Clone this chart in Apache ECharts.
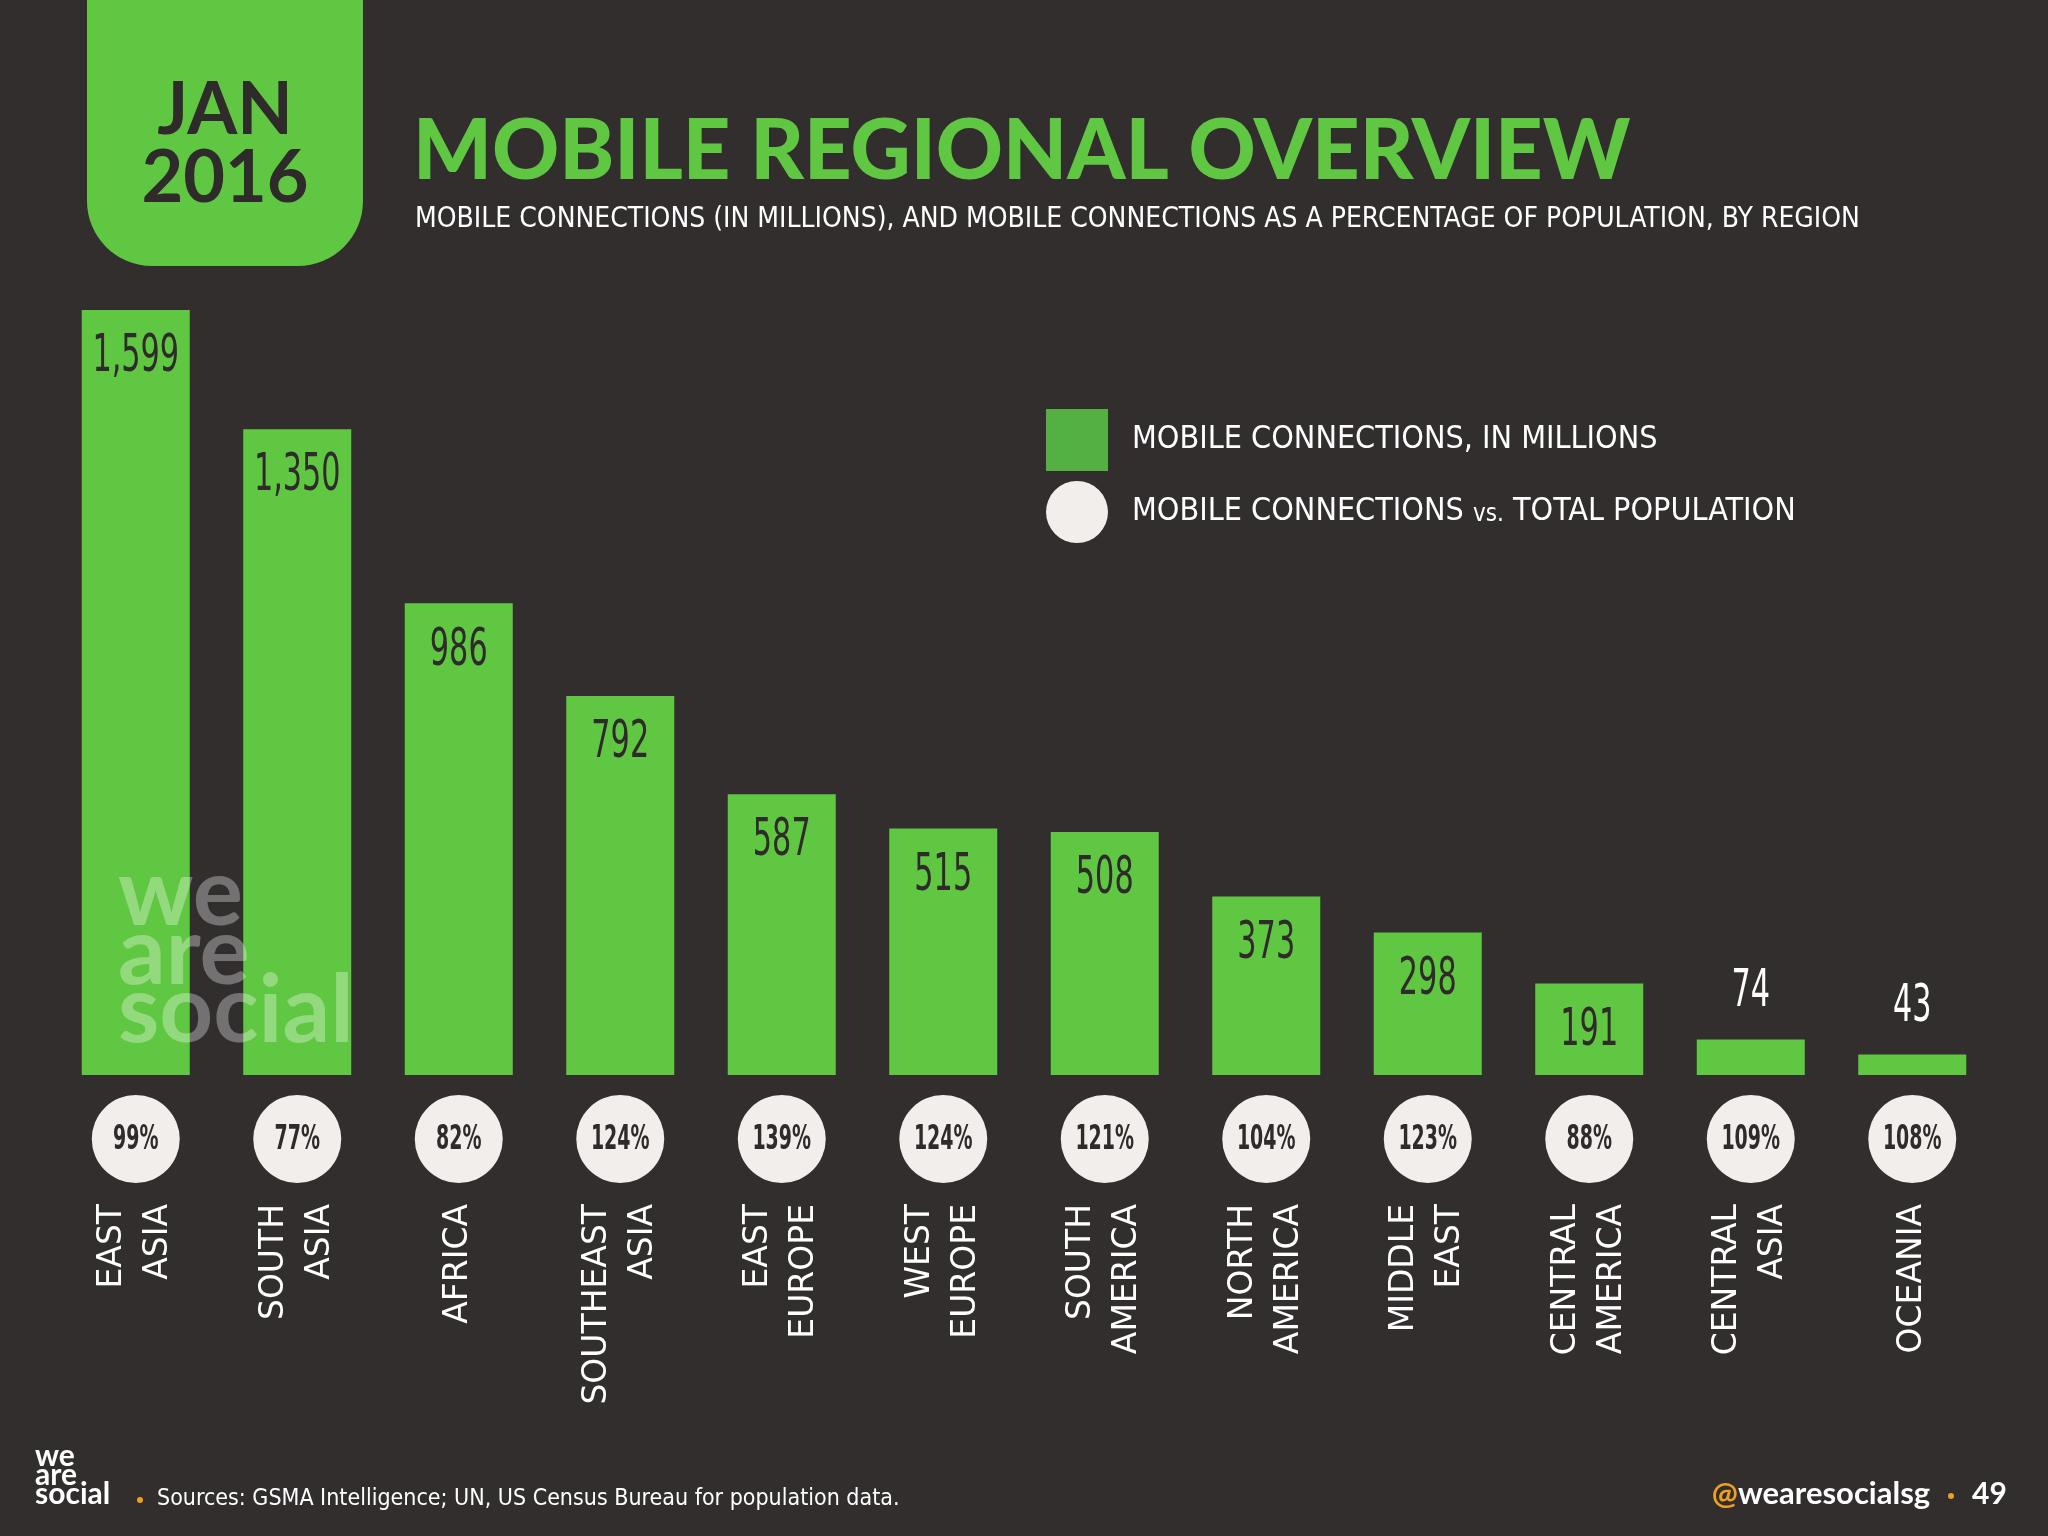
<!DOCTYPE html>
<html>
<head>
<meta charset="utf-8">
<script src="https://cdn.jsdelivr.net/npm/echarts@6/dist/echarts.min.js"></script>
<style>
  html, body { margin: 0; padding: 0; background: #322e2e; }
  #chart { width: 2048px; height: 1536px; }
</style>
</head>
<body>
<div id="chart"></div>
<script>
// ---- data ----
const categories = ['EAST ASIA', 'SOUTH ASIA', 'AFRICA', 'SOUTHEAST ASIA', 'EAST EUROPE', 'WEST EUROPE',
  'SOUTH AMERICA', 'NORTH AMERICA', 'MIDDLE EAST', 'CENTRAL AMERICA', 'CENTRAL ASIA', 'OCEANIA'];
const connectionsMillions = [1599, 1350, 986, 792, 587, 515, 508, 373, 298, 191, 74, 43];
const penetrationPct = [99, 77, 82, 124, 139, 124, 121, 104, 123, 88, 109, 108];
const seriesNames = ['MOBILE CONNECTIONS, IN MILLIONS', 'MOBILE CONNECTIONS vs. TOTAL POPULATION'];

// ---- style constants ----
const BG = '#322e2e';
const GREEN = '#60c742';
const DARK = '#2f2b2b';
const COND = '"DejaVu Sans Condensed", "DejaVu Sans", sans-serif';

const chart = echarts.init(document.getElementById('chart'), null, { renderer: 'canvas' });

const option = {
  backgroundColor: BG,
  animation: false,
  grid: [
    { left: 55, right: 55, top: 310, bottom: 461 },
    { left: 55, right: 55, top: 1095, height: 88 }
  ],
  xAxis: [
    { type: 'category', gridIndex: 0, data: categories, axisLine: { show: false }, axisTick: { show: false }, axisLabel: { show: false } },
    { type: 'category', gridIndex: 1, data: categories, axisLine: { show: false }, axisTick: { show: false },
      axisLabel: {
        show: true, rotate: 90, margin: 21, interval: 0,
        color: '#ffffff', fontFamily: '"DejaVu Sans", sans-serif', fontSize: 33, lineHeight: 46,
        formatter: v => v.replace(' ', '\n')
      }
    }
  ],
  yAxis: [
    { type: 'value', gridIndex: 0, min: 0, max: 1599, show: false },
    { type: 'category', gridIndex: 1, data: ['pct'], show: false }
  ],
  legend: {
    orient: 'vertical', left: 1041, top: 404, itemWidth: 62, itemHeight: 62, itemGap: 10,
    selectedMode: false,
    textStyle: {
      color: '#ffffff', fontFamily: COND, fontSize: 32, padding: [0, 0, 0, 19],
      rich: { s: { fontFamily: COND, fontSize: 24, color: '#ffffff', padding: [6, 0, 0, 0] } }
    },
    formatter: n => n.replace(' vs. ', ' {s|vs.} '),
    data: [
      { name: seriesNames[0], icon: 'rect', itemStyle: { color: '#55b043', opacity: 1 } },
      { name: seriesNames[1], icon: 'circle', itemStyle: { color: '#f1eeec', opacity: 1 } }
    ]
  },
  series: [
    {
      name: seriesNames[0], type: 'bar', xAxisIndex: 0, yAxisIndex: 0,
      data: connectionsMillions, barWidth: 108,
      itemStyle: { color: GREEN }
    },
    {
      name: 'valueLabels', type: 'custom', xAxisIndex: 0, yAxisIndex: 0, z: 5,
      data: connectionsMillions.map((v, i) => [i, v]),
      renderItem: (params, api) => {
        const v = api.value(1);
        const pt = api.coord([api.value(0), v]);
        const small = v < 100;
        return {
          type: 'text', x: pt[0], y: small ? pt[1] - 47 : pt[1] + 48, scaleX: 0.66, scaleY: 1,
          style: {
            text: Number(v).toLocaleString('en-US'), fill: small ? '#ffffff' : DARK,
            font: '51px ' + COND, align: 'center', verticalAlign: 'middle'
          }
        };
      }
    },
    {
      name: seriesNames[1], type: 'scatter', xAxisIndex: 1, yAxisIndex: 1,
      data: penetrationPct.map((p, i) => [categories[i], 'pct', p]),
      symbol: 'circle', symbolSize: 88,
      itemStyle: { color: '#f1eeec', opacity: 1 }
    },
    {
      name: 'pctLabels', type: 'custom', xAxisIndex: 1, yAxisIndex: 1, z: 5,
      data: penetrationPct.map((p, i) => [categories[i], 'pct', p]),
      renderItem: (params, api) => {
        const pt = api.coord([api.value(0), api.value(1)]);
        return {
          type: 'text', x: pt[0], y: pt[1] + 1, scaleX: 0.64,
          style: {
            text: api.value(2) + '%', fill: DARK, font: 'bold 33px ' + COND,
            align: 'center', verticalAlign: 'middle'
          }
        };
      }
    }
  ],
  graphic: [
    // header tab
    { type: 'rect', left: 87, top: 0, z: 10, shape: { width: 276, height: 266, r: [0, 0, 65, 65] }, style: { fill: GREEN } },
    { type: 'text', x: 225, y: 111, z: 11, style: { text: 'JAN', fill: DARK, font: 'bold 72px Lato, sans-serif', textAlign: 'center', textVerticalAlign: 'middle' } },
    { type: 'text', x: 225, y: 179, z: 11, style: { text: '2016', fill: DARK, font: 'bold 72px Lato, sans-serif', textAlign: 'center', textVerticalAlign: 'middle' } },
    // title
    { type: 'text', x: 413, y: 152, z: 11, style: { text: 'MOBILE REGIONAL OVERVIEW', fill: GREEN, font: '900 83px Lato, sans-serif', textVerticalAlign: 'middle' } },
    { type: 'text', x: 415, y: 220, z: 11, style: { text: 'MOBILE CONNECTIONS (IN MILLIONS), AND MOBILE CONNECTIONS AS A PERCENTAGE OF POPULATION, BY REGION', fill: '#ffffff', font: '28px ' + COND, textVerticalAlign: 'middle' } },
    // watermark
    { type: 'text', x: 118, y: 895, z: 20, style: { text: 'we', fill: 'rgba(255,255,255,0.32)', font: 'bold 94px Lato, sans-serif', textVerticalAlign: 'middle' } },
    { type: 'text', x: 118, y: 954, z: 20, style: { text: 'are', fill: 'rgba(255,255,255,0.32)', font: 'bold 94px Lato, sans-serif', textVerticalAlign: 'middle' } },
    { type: 'text', x: 118, y: 1012, z: 20, style: { text: 'social', fill: 'rgba(255,255,255,0.32)', font: 'bold 94px Lato, sans-serif', textVerticalAlign: 'middle' } },
    // footer
    { type: 'text', x: 35, y: 1447, z: 11, style: { text: 'we\nare\nsocial', fill: '#ffffff', font: 'bold 30px Lato, sans-serif', lineHeight: 19, textVerticalAlign: 'top' } },
    { type: 'circle', z: 11, shape: { cx: 140, cy: 1500, r: 3 }, style: { fill: '#f0a020' } },
    { type: 'text', x: 157, y: 1499, z: 11, style: { text: 'Sources: GSMA Intelligence; UN, US Census Bureau for population data.', fill: '#ffffff', font: '23px ' + COND, textVerticalAlign: 'middle' } },
    { type: 'text', x: 1930, y: 1494, z: 11, style: { text: '{a|@}wearesocialsg', textAlign: 'right', textVerticalAlign: 'middle',
        rich: { a: { fill: '#f0a020', font: 'bold 31px Lato, sans-serif' } }, fill: '#ffffff', font: 'bold 31px Lato, sans-serif' } },
    { type: 'circle', z: 11, shape: { cx: 1951, cy: 1496, r: 3 }, style: { fill: '#f0a020' } },
    { type: 'text', x: 1972, y: 1494, z: 11, style: { text: '49', fill: '#ffffff', font: 'bold 30px Lato, sans-serif', textVerticalAlign: 'middle' } }
  ]
};

chart.setOption(option);
</script>
</body>
</html>
